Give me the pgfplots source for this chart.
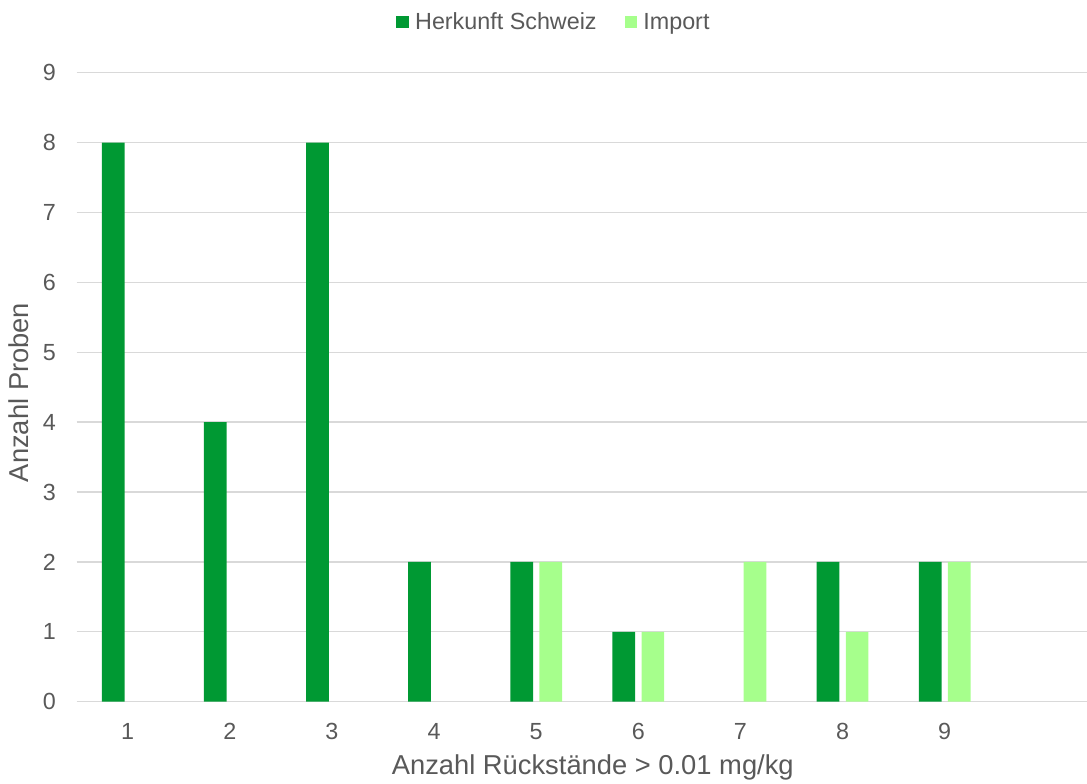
\documentclass[border=0pt]{standalone}
\usepackage{fontspec}
\setmainfont{Liberation Sans}
\usepackage{pgfplots}
\pgfplotsset{compat=1.18}
\usetikzlibrary{calc}
\definecolor{schweiz}{RGB}{0,153,51}
\definecolor{import}{RGB}{166,255,140}
\definecolor{txt}{RGB}{89,89,89}
\definecolor{grd}{RGB}{217,217,217}

\begin{document}
\begin{tikzpicture}
\begin{axis}[
  name=ax,
  width=757.5pt, height=471.75pt,
  scale only axis,
  xmin=0.5, xmax=10.39,
  ymin=0, ymax=9,
  xtick={1,...,9},
  ytick={0,...,9},
  ymajorgrids,
  grid style={grd, line width=1pt},
  axis line style={draw=none},
  major tick length=0pt,
  /pgf/number format/assume math mode=true,
  tick label style={font=\fontsize{17.5}{20}\selectfont, text=txt},
  yticklabel style={inner sep=0pt, xshift=-15.5pt},
  xticklabel style={inner sep=0pt, yshift=-16pt},
  xlabel={Anzahl Rückstände > 0.01 mg/kg},
  ylabel={Anzahl Proben},
  label style={font=\fontsize{20.5}{24}\selectfont, text=txt},
  xlabel style={at={(axis description cs:0.511,-0.115)}, anchor=base, inner sep=0pt},
  ylabel style={at={(axis description cs:-0.0472,0.4916)}, anchor=base, inner sep=0pt},
  ybar, bar width=17pt,
  legend columns=2,
  legend style={draw=none, fill=none, at={(axis description cs:0.4716,1.0806)}, anchor=center,
    font=\fontsize{17.5}{20}\selectfont, text=txt,
    nodes={inner sep=0pt},
    /tikz/every even column/.append style={column sep=21pt}},
  legend image code/.code={\fill[#1] (0pt,-4.75pt) rectangle (9.5pt,4.75pt); \path (14pt,0pt);},
]
\addplot[fill=schweiz, draw=none, bar shift=-10.9pt] coordinates {
  (1,8) (2,4) (3,8) (4,2) (5,2) (6,1) (8,2) (9,2)
};
\addlegendentry{Herkunft Schweiz}
\addplot[fill=import, draw=none, bar shift=10.9pt] coordinates {
  (5,2) (6,1) (7,2) (8,1) (9,2)
};
\addlegendentry{Import}
\end{axis}
\pgfresetboundingbox
\path[use as bounding box] ($(ax.south west)+(-57.5pt,-61pt)$) rectangle ++(815.25pt,587.25pt);
\end{tikzpicture}
\end{document}
